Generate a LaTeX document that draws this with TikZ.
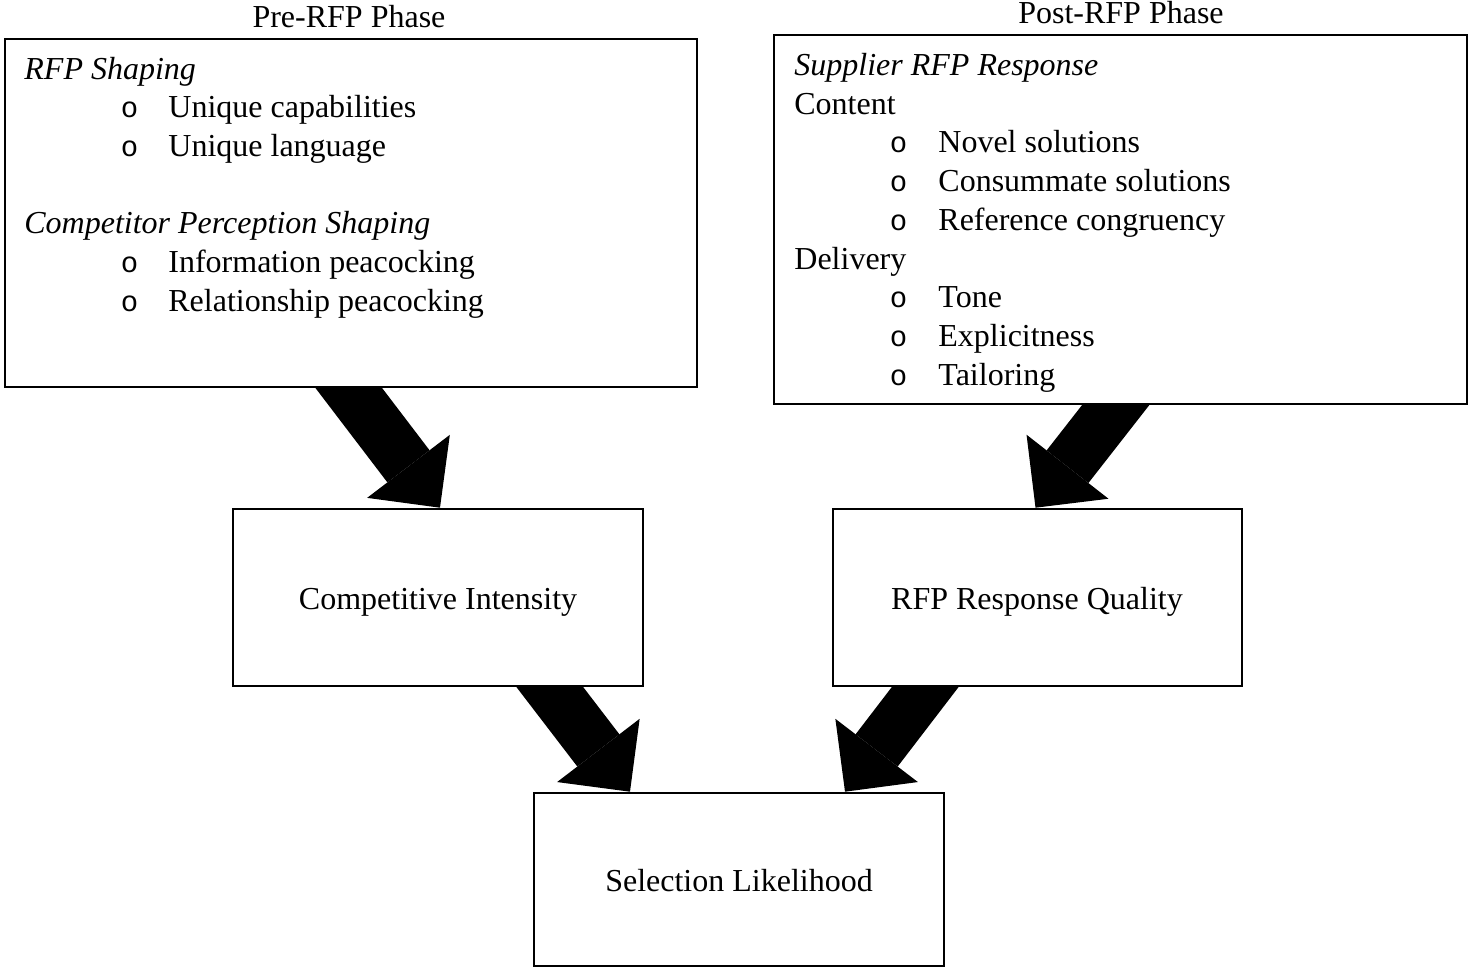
\documentclass[tikz,border=0pt]{standalone}
\usepackage{fontspec}
\setmainfont{Liberation Serif}
\newfontfamily\bulletfont{Liberation Mono}
\usetikzlibrary{arrows.meta,backgrounds}
\begin{document}
\begin{tikzpicture}[x=0.5pt,y=-0.5pt,
  box/.style={draw, line width=1.3pt, fill=white, inner sep=0pt},
  txt/.style={inner sep=0pt, anchor=base west, font=\fontsize{16}{19}\selectfont},
  itx/.style={txt, font=\fontsize{16}{19}\selectfont\itshape},
  ctr/.style={inner sep=0pt, anchor=base, font=\fontsize{16}{19}\selectfont},
  bul/.style={inner sep=0pt, anchor=base west, font=\fontsize{14.5}{17}\bulletfont},
  fat/.style={line width=26.5pt, -{Triangle[length=26pt,width=52pt,line width=0pt]}, shorten <=-12pt}]
\useasboundingbox (0,0) rectangle (1469,969);

% boxes
\node[box, minimum width=346pt, minimum height=174pt] (A) at (351,213) {};
\node[box, minimum width=346.5pt, minimum height=184.5pt] (B) at (1120.5,219.5) {};
\node[box, minimum width=205pt, minimum height=88.5pt] (C) at (438,597.5) {};
\node[box, minimum width=204.5pt, minimum height=88.5pt] (D) at (1037.5,597.5) {};
\node[box, minimum width=205pt, minimum height=86.5pt] (E) at (739,879.5) {};

% headers
\node[ctr] (preh) at (349,27) {Pre-RFP Phase};
\node[ctr] (posth) at (1121,24) {Post-RFP Phase};

% box A content
\node[itx] (a1) at (24,79) {RFP Shaping};
\node[bul] (ab1) at (120.5,117.7) {o};
\node[txt] (a2) at (168,117.7) {Unique capabilities};
\node[bul] (ab2) at (120.5,156.4) {o};
\node[txt] (a3) at (168,156.4) {Unique language};
\node[itx] (a4) at (24,233.8) {Competitor Perception Shaping};
\node[bul] (ab3) at (120.5,272.5) {o};
\node[txt] (a5) at (168,272.5) {Information peacocking};
\node[bul] (ab4) at (120.5,311.2) {o};
\node[txt] (a6) at (168,311.2) {Relationship peacocking};

% box B content
\node[itx] (b1) at (794,75.5) {Supplier RFP Response};
\node[txt] (b2) at (794,114.2) {Content};
\node[bul] (bb1) at (889.5,152.9) {o};
\node[txt] (b3) at (938,152.9) {Novel solutions};
\node[bul] (bb2) at (889.5,191.6) {o};
\node[txt] (b4) at (938,191.6) {Consummate solutions};
\node[bul] (bb3) at (889.5,230.3) {o};
\node[txt] (b5) at (938,230.3) {Reference congruency};
\node[txt] (b6) at (794,269.0) {Delivery};
\node[bul] (bb4) at (889.5,307.7) {o};
\node[txt] (b7) at (938,307.7) {Tone};
\node[bul] (bb5) at (889.5,346.4) {o};
\node[txt] (b8) at (938,346.4) {Explicitness};
\node[bul] (bb6) at (889.5,385.1) {o};
\node[txt] (b9) at (938,385.1) {Tailoring};

% box labels
\node[ctr] (ct) at (438,609) {Competitive Intensity};
\node[ctr] (dt) at (1037,609) {RFP Response Quality};
\node[ctr] (et) at (739,891) {Selection Likelihood};

% block arrows
\begin{scope}[on background layer]
\draw[fat] ([xshift=-1pt]A.south) -- ([xshift=1pt]C.north);
\draw[fat] ([xshift=-2.5pt]B.south) -- ([xshift=-1pt]D.north);
\draw[fat] ([xshift=56pt]C.south) -- ([xshift=-54.5pt]E.north);
\draw[fat] ([xshift=-56.25pt]D.south) -- ([xshift=53pt]E.north);
\end{scope}
\end{tikzpicture}
\end{document}
